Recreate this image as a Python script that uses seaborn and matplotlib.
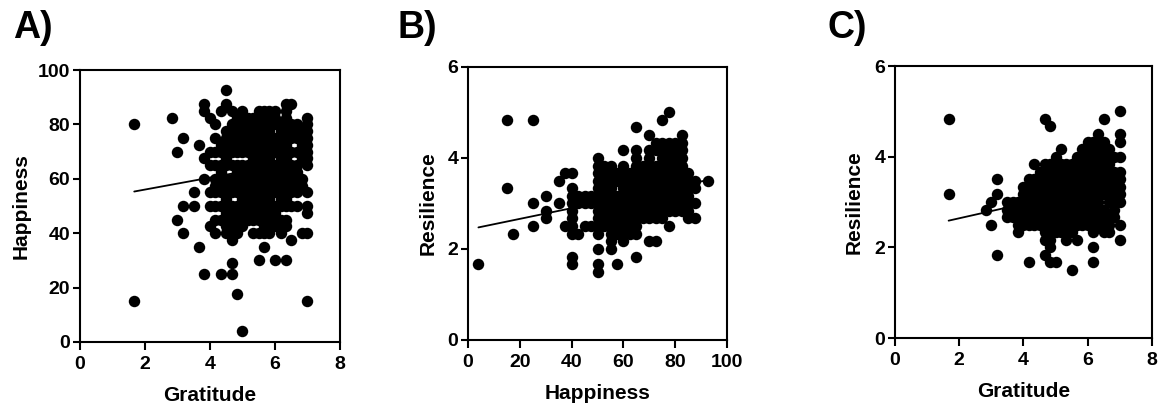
import matplotlib
matplotlib.use("Agg")
import matplotlib.pyplot as plt
import seaborn as sns
import pandas as pd

# A) happiness scores per gratitude score (gratitude is a mean of 6 items)
happy_by_grat = {
    1.67: [80, 15],
    2.83: [82.5],
    3.0: [70, 45],
    3.17: [75, 50, 40],
    3.5: [55, 50],
    3.67: [72.5, 35],
    3.83: [87.5, 85, 67.5, 60, 25],
    4.0: [82.5, 70, 65, 55, 50, 42.5],
    4.17: [80, 75, 70, 65, 60, 57.5, 55, 50, 45, 40],
    4.33: [85, 72.5, 70, 65, 62.5, 60, 55, 50, 45, 25],
    4.5: [92.5, 87.5, 77.5, 75, 70, 67.5, 65, 60, 57.5, 55, 52.5, 47.5, 42.5, 40],
    4.67: [85, 80, 75, 72.5, 70, 65, 60, 55, 50, 47.5, 45, 40, 37.5, 29, 25],
    4.83: [82.5, 77.5, 75, 72.5, 70, 65, 62.5, 60, 57.5, 55, 50, 47.5, 45, 42.5, 40, 17.5],
    5.0: [85, 80, 77.5, 75, 70, 65, 62.5, 60, 55, 52.5, 50, 47.5, 45, 42.5, 4],
    5.17: [82.5, 80, 77.5, 75, 72.5, 70, 65, 60, 57.5, 55, 52.5, 50, 47.5, 45],
    5.33: [82.5, 80, 77.5, 75, 72.5, 70, 67.5, 62.5, 60, 57.5, 55, 50, 47.5, 45, 40],
    5.5: [85, 82.5, 80, 77.5, 75, 72.5, 70, 65, 62.5, 60, 57.5, 55, 52.5, 50, 47.5, 45, 40, 30],
    5.67: [85, 82.5, 80, 77.5, 75, 72.5, 70, 67.5, 65, 62.5, 60, 57.5, 55, 52.5, 50, 45, 42.5, 40, 35],
    5.83: [85, 82.5, 80, 77.5, 75, 72.5, 70, 67.5, 65, 62.5, 60, 57.5, 55, 52.5, 50, 47.5, 45, 40],
    6.0: [85, 82.5, 80, 75, 72.5, 70, 65, 62.5, 60, 57.5, 55, 50, 47.5, 45, 42.5, 30],
    6.17: [80, 77.5, 75, 72.5, 70, 67.5, 65, 62.5, 60, 57.5, 55, 52.5, 50, 45, 42.5, 40],
    6.33: [87.5, 85, 82.5, 77.5, 75, 72.5, 70, 67.5, 65, 60, 57.5, 55, 52.5, 50, 45, 42.5, 30],
    6.5: [87.5, 80, 77.5, 75, 70, 65, 62.5, 60, 57.5, 55, 50, 37.5],
    6.67: [80, 77.5, 75, 70, 65, 62.5, 60, 57.5, 55, 50],
    6.83: [77.5, 72.5, 70, 67.5, 60, 57.5, 40],
    7.0: [82.5, 80, 77.5, 75, 72.5, 70, 67.5, 65, 55, 50, 47.5, 40, 15],
}
fit_a_x = [1.67, 7.0]
fit_a_y = [55.3, 67.0]

# B) resilience scores per happiness score
resil_by_happy = {
    4: [1.67],
    15: [4.83, 3.33],
    17.5: [2.33],
    25: [4.83, 3.0, 2.5],
    30: [3.17, 2.83, 2.67],
    35: [3.5, 3.0],
    37.5: [3.67, 2.5],
    40: [3.67, 3.33, 3.17, 3.0, 2.83, 2.67, 2.5, 2.33, 1.83, 1.67],
    42.5: [3.17, 3.0, 2.33],
    45: [3.17, 3.0, 2.5],
    47.5: [3.17, 3.0, 2.5],
    50: [4.0, 3.83, 3.67, 3.5, 3.33, 3.17, 3.0, 2.83, 2.67, 2.5, 2.33, 2.0, 1.67, 1.5],
    52.5: [3.83, 3.67, 3.5, 3.33, 3.17, 3.0, 2.83, 2.67, 2.5],
    55: [3.83, 3.67, 3.5, 3.33, 3.17, 3.0, 2.83, 2.67, 2.5, 2.33, 2.17, 2.0],
    57.5: [3.67, 3.5, 3.17, 3.0, 2.83, 2.67, 2.5, 2.33, 1.67],
    60: [4.17, 3.83, 3.67, 3.5, 3.33, 3.17, 3.0, 2.83, 2.67, 2.5, 2.33, 2.17],
    62.5: [3.67, 3.5, 3.33, 3.17, 3.0, 2.83, 2.67, 2.5, 2.33],
    65: [4.67, 4.17, 4.0, 3.83, 3.67, 3.5, 3.33, 3.17, 3.0, 2.83, 2.67, 2.5, 2.33, 1.83],
    67.5: [3.83, 3.67, 3.5, 3.33, 3.17, 3.0, 2.83, 2.67],
    70: [4.5, 4.17, 4.0, 3.83, 3.67, 3.5, 3.33, 3.17, 3.0, 2.83, 2.67, 2.17],
    72.5: [4.33, 4.17, 3.83, 3.67, 3.5, 3.33, 3.17, 3.0, 2.83, 2.67, 2.17],
    75: [4.83, 4.33, 4.17, 4.0, 3.83, 3.67, 3.5, 3.33, 3.17, 3.0, 2.83, 2.67],
    77.5: [5.0, 4.33, 4.17, 4.0, 3.83, 3.67, 3.5, 3.33, 3.17, 3.0, 2.83, 2.5],
    80: [4.33, 4.17, 4.0, 3.83, 3.67, 3.5, 3.33, 3.17, 3.0, 2.83],
    82.5: [4.5, 4.33, 4.17, 4.0, 3.83, 3.67, 3.5, 3.33, 3.17, 3.0, 2.83],
    85: [3.67, 3.5, 3.33, 3.17, 3.0, 2.83, 2.67],
    87.5: [3.5, 3.33, 3.0, 2.67],
    92.5: [3.5],
}
fit_b_x = [4, 92.5]
fit_b_y = [2.47, 3.51]

# C) resilience scores per gratitude score
resil_by_grat = {
    1.67: [4.83, 3.17],
    2.83: [2.83],
    3.0: [3.0, 2.5],
    3.17: [3.5, 3.17, 1.83],
    3.5: [3.0, 2.83, 2.67],
    3.67: [3.0, 2.83, 2.67],
    3.83: [3.0, 2.83, 2.67, 2.5, 2.33],
    4.0: [3.33, 3.17, 3.0, 2.83, 2.67, 2.5],
    4.17: [3.5, 3.33, 3.17, 3.0, 2.83, 2.67, 2.5, 1.67],
    4.33: [3.83, 3.5, 3.33, 3.17, 3.0, 2.83, 2.67, 2.5],
    4.5: [3.67, 3.5, 3.33, 3.17, 3.0, 2.83, 2.67, 2.5],
    4.67: [4.83, 3.83, 3.67, 3.5, 3.33, 3.17, 3.0, 2.83, 2.67, 2.5, 2.33, 2.17, 1.83],
    4.83: [4.67, 3.83, 3.67, 3.5, 3.33, 3.17, 3.0, 2.83, 2.67, 2.5, 2.33, 2.17, 2.0, 1.67],
    5.0: [4.0, 3.83, 3.67, 3.5, 3.33, 3.17, 3.0, 2.83, 2.67, 2.5, 2.33, 1.67],
    5.17: [4.17, 3.83, 3.67, 3.5, 3.33, 3.17, 3.0, 2.83, 2.67, 2.5, 2.33],
    5.33: [3.83, 3.67, 3.5, 3.33, 3.17, 3.0, 2.83, 2.67, 2.5, 2.33, 2.17],
    5.5: [3.83, 3.67, 3.5, 3.33, 3.17, 3.0, 2.83, 2.67, 2.5, 2.33, 1.5],
    5.67: [4.0, 3.83, 3.67, 3.5, 3.33, 3.17, 3.0, 2.83, 2.67, 2.5, 2.17],
    5.83: [4.17, 4.0, 3.83, 3.67, 3.5, 3.33, 3.17, 3.0, 2.83, 2.67, 2.5],
    6.0: [4.33, 4.17, 4.0, 3.83, 3.67, 3.5, 3.33, 3.17, 3.0, 2.83, 2.67, 2.5],
    6.17: [4.33, 4.17, 4.0, 3.83, 3.67, 3.5, 3.33, 3.17, 3.0, 2.83, 2.67, 2.5, 2.33, 2.0, 1.67],
    6.33: [4.5, 4.33, 4.17, 4.0, 3.83, 3.67, 3.5, 3.33, 3.17, 3.0, 2.83, 2.67, 2.5],
    6.5: [4.83, 4.33, 4.17, 4.0, 3.83, 3.67, 3.5, 3.33, 3.17, 2.83, 2.67, 2.5, 2.33],
    6.67: [4.17, 4.0, 3.83, 3.67, 3.5, 3.33, 3.17, 3.0, 2.67, 2.5, 2.33],
    6.83: [4.0, 3.67, 3.5, 3.33, 3.17, 3.0, 2.83, 2.67],
    7.0: [5.0, 4.5, 4.33, 4.0, 3.67, 3.5, 3.33, 3.17, 3.0, 2.5, 2.17],
}
fit_c_x = [1.67, 7.0]
fit_c_y = [2.59, 3.44]


def to_frame(cols, xname, yname):
    rows = [(x, y) for x, ys in cols.items() for y in ys]
    return pd.DataFrame(rows, columns=[xname, yname])


sns.set_style("ticks")
plt.rcParams["font.family"] = ["Liberation Sans", "DejaVu Sans"]
plt.rcParams["font.weight"] = "bold"
plt.rcParams["axes.labelweight"] = "bold"
for key in ["text.color", "axes.labelcolor", "xtick.color", "ytick.color", "axes.edgecolor"]:
    plt.rcParams[key] = "black"

fig = plt.figure(figsize=(11.62, 4.07), dpi=100)

panels = [
    ("A)", to_frame(happy_by_grat, "Gratitude", "Happiness"), fit_a_x, fit_a_y,
     [0.0688, 0.160, 0.2238, 0.668], (0, 8), (0, 100), range(0, 9, 2), range(0, 101, 20), 0.011, 5.5),
    ("B)", to_frame(resil_by_happy, "Happiness", "Resilience"), fit_b_x, fit_b_y,
     [0.4028, 0.165, 0.2229, 0.671], (0, 100), (0, 6), range(0, 101, 20), range(0, 7, 2), 0.342, 7.5),
    ("C)", to_frame(resil_by_grat, "Gratitude", "Resilience"), fit_c_x, fit_c_y,
     [0.7702, 0.1695, 0.2212, 0.668], (0, 8), (0, 6), range(0, 9, 2), range(0, 7, 2), 0.712, 7.5),
]

for letter, df, fx, fy, rect, xlim, ylim, xt, yt, lx, ypad in panels:
    ax = fig.add_axes(rect)
    xcol, ycol = df.columns
    sns.lineplot(x=fx, y=fy, color="black", linewidth=1.3, ax=ax)
    sns.scatterplot(data=df, x=xcol, y=ycol, color="black", s=68, linewidth=0, ax=ax, zorder=3)
    ax.set_xlim(*xlim)
    ax.set_ylim(*ylim)
    ax.set_xticks(list(xt))
    ax.set_yticks(list(yt))
    for sp in ax.spines.values():
        sp.set_visible(True)
        sp.set_linewidth(1.5)
        sp.set_color("black")
    ax.tick_params(direction="out", length=5.4, width=1.5, labelsize=14)
    ax.tick_params(axis="x", pad=5)
    ax.tick_params(axis="y", pad=1.5)
    for lab in ax.get_xticklabels() + ax.get_yticklabels():
        lab.set_fontweight("bold")
    ax.set_xlabel(xcol, fontsize=15, fontweight="bold", labelpad=9)
    ax.set_ylabel(ycol, fontsize=15, fontweight="bold", labelpad=ypad)
    ax.grid(False)
    fig.text(lx, 0.93, letter, fontsize=27, fontweight="bold", ha="left", va="center")

fig.savefig("out.png", dpi=100)
